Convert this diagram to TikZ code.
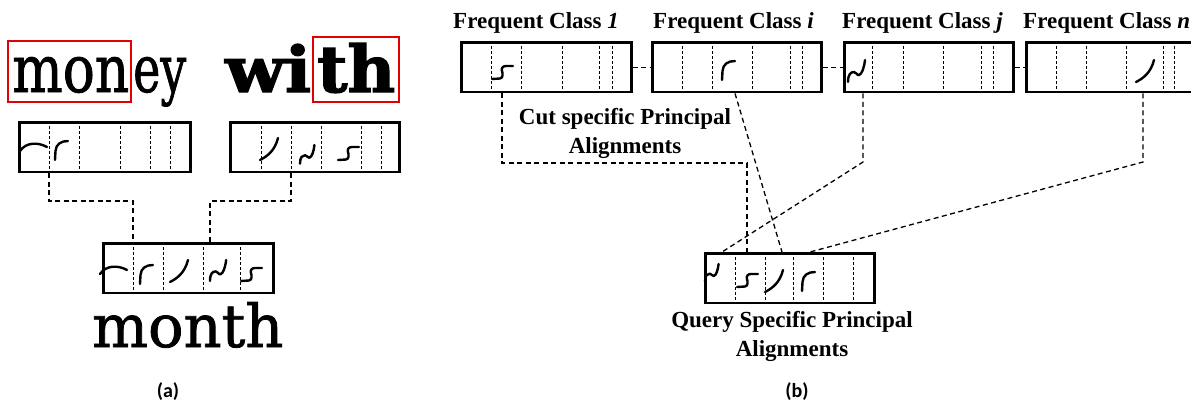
\documentclass[tikz,border=0pt]{standalone}
\usepackage{fontspec}
\usepackage{graphicx}
\setmainfont{Liberation Serif}
\newfontfamily\oldface[FakeBold=1.3]{DejaVu Serif}
\newfontfamily\heavyface[FakeBold=2]{DejaVu Serif Bold}
\newfontfamily\capfont{Carlito}
\tikzset{
  cellbox/.style={draw, line width=2.9pt, inner sep=0pt, anchor=north west,
                  minimum width=#1, minimum height=49.5pt},
  cellbox/.default=171pt,
  divider/.style={line width=0.9pt, dash pattern=on 3pt off 2pt},
  link/.style={line width=1.3pt, dash pattern=on 5pt off 3.5pt},
  stroke/.style={line width=2.4pt, line cap=round, line join=round},
  hilite/.style={draw=red!90!black, line width=1.8pt},
  title/.style={font=\bfseries\fontsize{23}{28}\selectfont, anchor=base west, inner sep=0pt},
  note/.style={font=\bfseries\fontsize{23}{29}\selectfont, align=center, inner sep=0pt},
  caption/.style={font=\capfont\bfseries\fontsize{20}{24}\selectfont, inner sep=0pt},
  word/.style={anchor=base west, inner sep=0pt},
  % handwritten stroke primitives, origin at top-left, y grows downwards
  garc/.pic={\draw[stroke] (0,8) .. controls (6,-1) and (18,-1) .. (27,4);},
  gr/.pic={\draw[stroke] (0,19) -- (0.5,10) .. controls (1,3) and (6,0) .. (13,0);},
  gslash/.pic={\draw[stroke] (0,22) .. controls (8,18) and (15,12) .. (18,0);},
  gwave/.pic={\draw[stroke] (0,22) .. controls (0,14) and (3,12) .. (6,12)
                .. controls (9,12) and (9,16) .. (11,15)
                .. controls (14,14) and (16,8) .. (17,0);},
  gs/.pic={\draw[stroke] (0,13) -- (8,12.5) .. controls (11,12) and (11,8) .. (10,5)
                .. controls (9,2) and (11,0) .. (14,0) -- (21,0);},
}
\begin{document}
\begin{tikzpicture}[x=1pt, y=-1pt]
\useasboundingbox (0,0) rectangle (1191,405);

% ---------------- (a) ----------------
% the two source words, split where the highlighted parts end
\node[word] (wmon) at (12,92) {\resizebox{117pt}{35pt}{\oldface mon}};
\node[word] (wey) at (133,92) {\resizebox{53pt}{35pt}{\oldface ey}};
\node[word] (wwi) at (225,92) {\resizebox{86pt}{48pt}{\heavyface wi}};
\node[word] (wth) at (317,92) {\resizebox{78pt}{49pt}{\heavyface th}};
\draw[hilite] (8,41) rectangle (131,102);
\draw[hilite] (313,37) rectangle (399,102);

\node[cellbox] (a1) at (18,121) {};
\node[cellbox=169pt] (a2) at (229,121) {};
\node[cellbox=170pt] (m) at (102,242) {};
\foreach \x in {49,79,120,150,170}
  \draw[divider] (a1.north -| \x,0) -- (a1.south -| \x,0);
\foreach \x in {261,291,321,361,381}
  \draw[divider] (a2.north -| \x,0) -- (a2.south -| \x,0);
\foreach \x in {133,163,203,240}
  \draw[divider] (m.north -| \x,0) -- (m.south -| \x,0);

\pic at (20,143) {garc};
\pic at (55,141) {gr};
\pic at (260,138) {gslash};
\pic[scale=0.85] at (300,145) {gwave};
\pic at (338,147) {gs};

\pic at (100,266) {garc};
\pic at (140,265) {gr};
\pic at (170,260) {gslash};
\pic[scale=0.95] at (210,260) {gwave};
\pic at (241,268) {gs};

\coordinate (ea1) at (133,201);
\coordinate (ea2) at (210,201);
\draw[link] (a1.south -| 49,0) |- (ea1) -- (m.north -| ea1);
\draw[link] (a2.south -| 291,0) |- (ea2) -- (m.north -| ea2);

\node[word] (wmonth) at (92,347) {\resizebox{191pt}{45pt}{\oldface month}};
\node[caption] (capa) at (168,392) {(a)};

% ---------------- (b) ----------------
\node[title] (t1) at (453,28) {Frequent Class \textit{1}};
\node[title] (ti) at (653,28) {Frequent Class \textit{i}};
\node[title] (tj) at (842,28) {Frequent Class \textit{j}};
\node[title] (tn) at (1023,28) {Frequent Class \textit{n}};

\node[cellbox=170pt] (f1) at (460,41) {};
\node[cellbox=169pt] (fi) at (651,41) {};
\node[cellbox=169pt] (fj) at (843,41) {};
\node[cellbox=171pt] (fn) at (1025,41) {};
\node[cellbox=169pt] (q) at (704,252) {};

\foreach \x in {491,521,562,599,612}
  \draw[divider] (f1.north -| \x,0) -- (f1.south -| \x,0);
\foreach \x in {682,712,752,790,802}
  \draw[divider] (fi.north -| \x,0) -- (fi.south -| \x,0);
\foreach \x in {872,903,943,981,993}
  \draw[divider] (fj.north -| \x,0) -- (fj.south -| \x,0);
\foreach \x in {1056,1086,1126,1163,1174}
  \draw[divider] (fn.north -| \x,0) -- (fn.south -| \x,0);
\foreach \x in {735,765,793,823,853}
  \draw[divider] (q.north -| \x,0) -- (q.south -| \x,0);

\draw[link] (f1.east) -- (fi.west);
\draw[link] (fi.east) -- (fj.west);
\draw[link] (fj.east) -- (fn.west);

\pic at (492,66) {gs};
\pic at (722,61) {gr};
\pic at (848,60) {gwave};
\pic at (1136,60) {gslash};

\pic[scale=0.8] at (705,264) {gwave};
\pic at (737,274) {gs};
\pic at (765,270) {gslash};
\pic at (802,272) {gr};

\coordinate (e1) at (747,163);
\coordinate (ej) at (863,162);
\coordinate (en) at (1143,162);
\draw[link] (f1.south -| 502,0) |- (e1) -- (q.north -| e1);
\draw[link] (fi.south -| 735,0) -- (q.north -| 782,0);
\draw[link] (fj.south -| ej) -- (ej) -- (q.north -| 722,0);
\draw[link] (fn.south -| en) -- (en) -- (q.north -| 810,0);

\node[note] (cut) at (625,133) {Cut specific Principal\\Alignments};
\node[note] (qry) at (792,336) {Query Specific Principal\\Alignments};
\node[caption] (capb) at (797,392) {(b)};
\end{tikzpicture}
\end{document}
